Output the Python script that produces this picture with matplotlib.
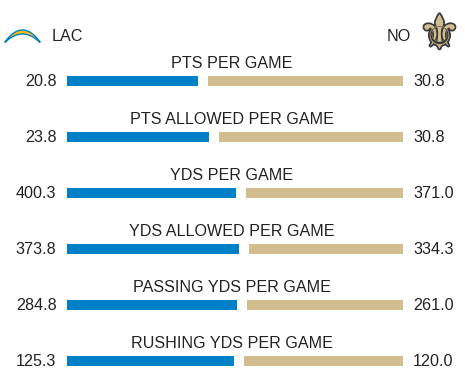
import numpy as np
import matplotlib
matplotlib.use("Agg")
import matplotlib.pyplot as plt
from matplotlib.patches import Polygon
import matplotlib.patheffects as pe

plt.rcParams['font.family'] = ['Liberation Sans', 'DejaVu Sans']

# data
teams = ["LAC", "NO"]
stats = ["PTS PER GAME", "PTS ALLOWED PER GAME", "YDS PER GAME",
         "YDS ALLOWED PER GAME", "PASSING YDS PER GAME", "RUSHING YDS PER GAME"]
lac_vals = [20.8, 23.8, 400.3, 373.8, 284.8, 125.3]
no_vals = [30.8, 30.8, 371.0, 334.3, 261.0, 120.0]

LAC_BLUE = "#0080C6"
NO_GOLD = "#D3BC8D"
TXT = "#222222"
FS = 11.6

W, H = 465, 390
fig = plt.figure(figsize=(W / 100, H / 100), dpi=100)

# main axes: x 0..1 spans the bar area, y in row units
ax = fig.add_axes([67 / W, 0, 336 / W, 1])
row_px, first_px = 56, 81
ax.set_ylim((H - first_px) / row_px, -first_px / row_px)
ax.set_xlim(0, 1)
ax.axis("off")

gap = 10 / 336
bh = 10 / row_px
lac = np.array(lac_vals)
no = np.array(no_vals)
frac = lac / (lac + no)
blue_w = frac * (1 - gap)
y = np.arange(len(stats))

ax.barh(y, blue_w, height=bh, left=0, color=LAC_BLUE)
ax.barh(y, (1 - blue_w - gap), height=bh, left=blue_w + gap, color=NO_GOLD)

for i, s in enumerate(stats):
    ax.text(0.491, i - 13 / row_px, s, ha="center", va="baseline",
            fontsize=FS, color=TXT)
    ax.text(-0.031, i + bh / 2, f"{lac_vals[i]:.1f}", ha="right", va="baseline",
            fontsize=FS, color=TXT, clip_on=False)
    ax.text(1.03, i + bh / 2, f"{no_vals[i]:.1f}", ha="left", va="baseline",
            fontsize=FS, color=TXT, clip_on=False)

# header
fig.text(52 / W, 1 - 41 / H, teams[0], ha="left", va="baseline", fontsize=FS, color=TXT)
fig.text(411 / W, 1 - 41 / H, teams[1], ha="right", va="baseline", fontsize=FS, color=TXT)

# logos drawn in pixel space
lax = fig.add_axes([0, 0, 1, 1])
lax.set_xlim(0, W)
lax.set_ylim(H, 0)
lax.axis("off")
lax.patch.set_alpha(0)

xs = np.linspace(5, 40, 30)
t = 1 - ((xs - 22.5) / 17.5) ** 2
top = 42 - 12 * t
bot = 42.5 - 8.5 * t
pts = np.column_stack([np.r_[xs, xs[::-1]], np.r_[top, bot[::-1]]])
lax.add_patch(Polygon(pts, closed=True, facecolor="#FFC20E", edgecolor=LAC_BLUE, lw=1.0))

lax.text(439.5, 36, "\u269c", ha="center", va="center", fontsize=34,
         family="DejaVu Sans", color=NO_GOLD,
         path_effects=[pe.withStroke(linewidth=2.5, foreground="#3a3a3a")])

fig.savefig("out.png", dpi=100)
